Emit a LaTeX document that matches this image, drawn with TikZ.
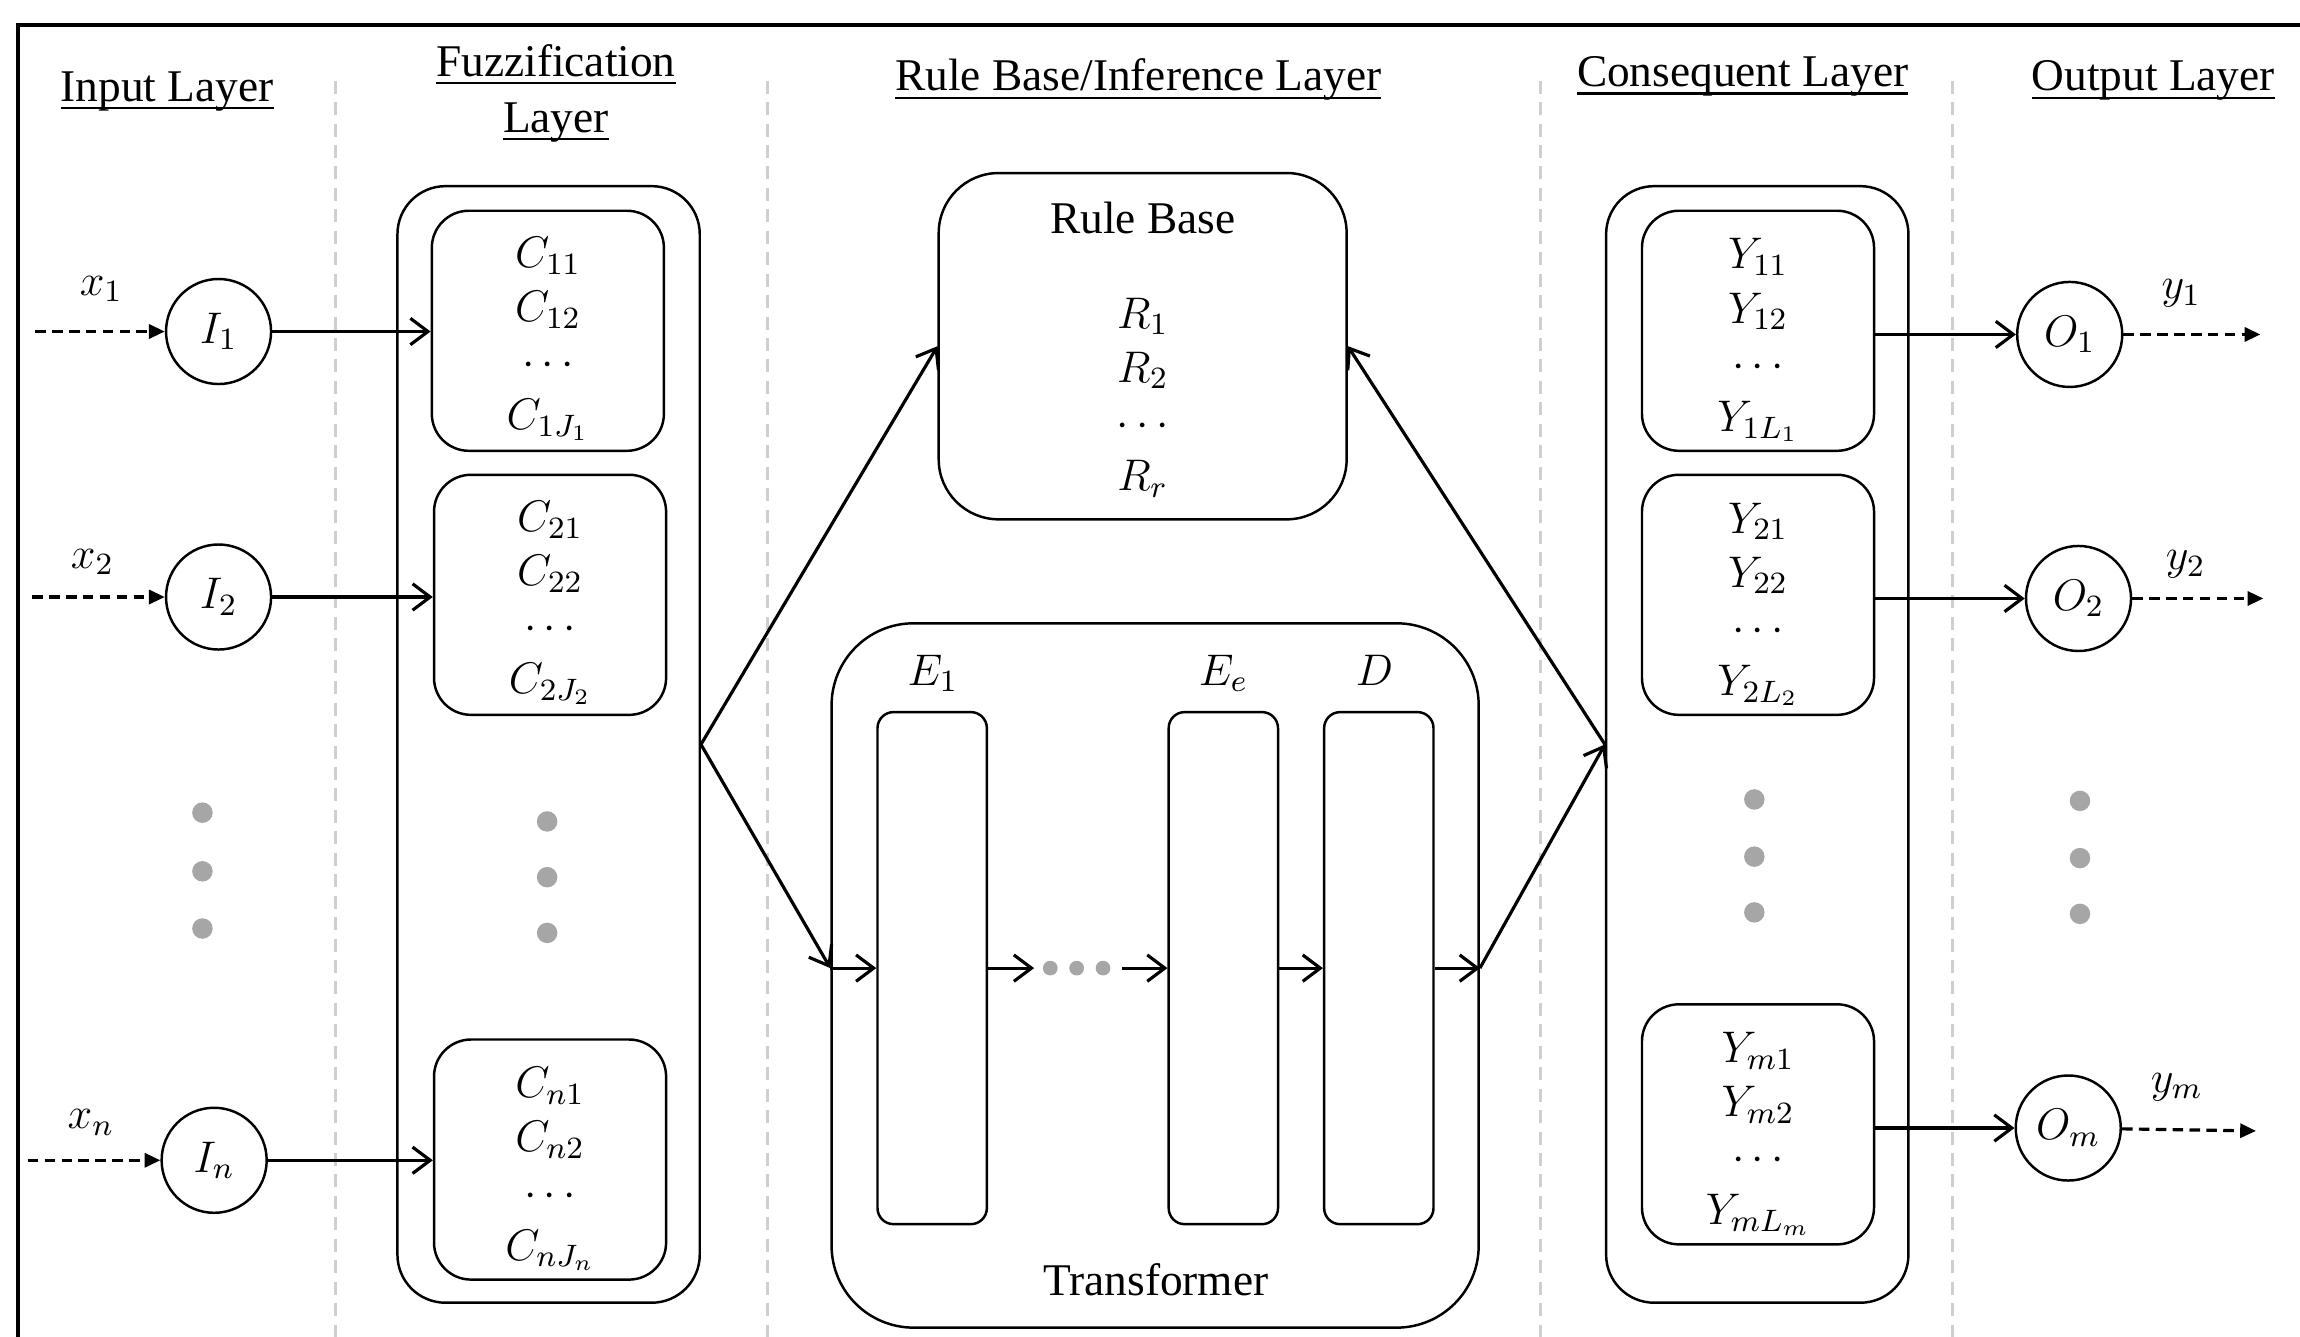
\documentclass[tikz,border=0pt]{standalone}
\usepackage{fix-cm}
\usepackage{fontspec}
\setmainfont{Liberation Serif}
\usetikzlibrary{arrows.meta}
\definecolor{dotgray}{HTML}{A6A6A6}
\definecolor{sepgray}{HTML}{CFCFCF}
\newsavebox{\hulbox}
\newcommand{\hul}[1]{\sbox{\hulbox}{#1}\rlap{\rule[-2.3pt]{\wd\hulbox}{0.7pt}}\usebox{\hulbox}}
\newcommand{\myhead}{\fontsize{12.9pt}{15.8pt}\selectfont}
\newcommand{\mymath}{\fontsize{12.6pt}{15.4pt}\selectfont}
\begin{document}
\begin{tikzpicture}[x=0.014668cm, y=-0.014668cm,
  outerbox/.style={draw, line width=0.7pt, rounded corners=0.48cm, minimum width=3.022cm, minimum height=11.162cm, inner sep=0pt},
  innerbox/.style={draw, line width=0.7pt, rounded corners=0.37cm, minimum width=2.32cm, minimum height=2.40cm, inner sep=0pt},
  barbox/.style={draw, line width=0.7pt, rounded corners=0.16cm, minimum width=1.093cm, minimum height=5.119cm, inner sep=0pt},
  neuron/.style={draw, circle, line width=0.7pt, minimum size=1.05cm, inner sep=0pt, font=\mymath},
  gdot/.style={circle, fill=dotgray, minimum size=0.205cm, inner sep=0pt},
  tdot/.style={circle, fill=dotgray, minimum size=0.147cm, inner sep=0pt},
  conn/.style={line width=0.9pt, -{Straight Barb[length=5pt,width=7.5pt]}},
  dashin/.style={line width=0.9pt, dash pattern=on 3pt off 1.8pt, -{Triangle[length=4.5pt,width=4pt]}},
  sepline/.style={sepgray, line width=0.9pt, dash pattern=on 3.7pt off 2.4pt},
  head/.style={font=\myhead, anchor=base, inner sep=0pt},
  mtext/.style={font=\mymath, align=center, inner sep=0pt},
  ttext/.style={font=\myhead, inner sep=0pt}
]
\useasboundingbox (0,0) rectangle (1568,911);
% frame
\draw[line width=1.1pt] (12,17) rectangle (1620,960);

% separators
\foreach \sx/\nm in {229/sa,523/sb,1050/sc,1331/sd}{
  \coordinate (\nm top) at (\sx,55);
  \coordinate (\nm bot) at (\sx,915);
  \draw[sepline] (\nm top) -- (\nm bot);
}

% headers
\node[head] (hIn) at (114,69) {\hul{Input Layer}};
\node[head] (hFa) at (379,52) {\hul{Fuzzification}};
\node[head] (hFb) at (379,90) {\hul{Layer}};
\node[head] (hRule) at (776,62) {\hul{Rule Base/Inference Layer}};
\node[head] (hCons) at (1188,59) {\hul{Consequent Layer}};
\node[head] (hOut) at (1468,62) {\hul{Output Layer}};

% input neurons
\node[neuron] (I1) at (149,226) {$I_1$};
\node[neuron] (I2) at (149,407) {$I_2$};
\node[neuron] (In) at (146,791) {$I_n$};
\coordinate (xs1) at (24,226);
\coordinate (xs2) at (22,407);
\coordinate (xsn) at (19,791);
\draw[dashin] (xs1) -- (I1);
\draw[dashin] (xs2) -- (I2);
\draw[dashin] (xsn) -- (In);
\node[font=\mymath, inner sep=0pt] (lx1) at (69,197) {$x_1$};
\node[font=\mymath, inner sep=0pt] (lx2) at (63,383) {$x_2$};
\node[font=\mymath, inner sep=0pt] (lxn) at (62,765) {$x_n$};
\node[gdot] (ida) at (138,554) {};
\node[gdot] (idb) at (138,594) {};
\node[gdot] (idc) at (138,633) {};

% fuzzification
\node[outerbox] (fuzz) at (374,507.5) {};
\node[innerbox] (c1) at (373.5,225.5) {};
\node[innerbox] (c2) at (375,405.5) {};
\node[innerbox] (cn) at (375,790.5) {};
\node[mtext] (c1t) at (373.5,231) {$C_{11}$\\$C_{12}$\\$\cdots$\\$C_{1J_1}$};
\node[mtext] (c2t) at (375,411) {$C_{21}$\\$C_{22}$\\$\cdots$\\$C_{2J_2}$};
\node[mtext] (cnt) at (375,797) {$C_{n1}$\\$C_{n2}$\\$\cdots$\\$C_{nJ_n}$};
\node[gdot] (fda) at (373,560) {};
\node[gdot] (fdb) at (373,598) {};
\node[gdot] (fdc) at (373,636) {};
\draw[conn] (I1) -- (I1 -| c1.west);
\draw[conn] (I2) -- (I2 -| c2.west);
\draw[conn] (In) -- (In -| cn.west);

% rule base
\node[draw, line width=0.7pt, rounded corners=0.6cm, minimum width=4.078cm, minimum height=3.462cm, inner sep=0pt] (rule) at (779,236) {};
\node[ttext, anchor=base] (rulet) at (779,159) {Rule Base};
\node[mtext] (rules) at (779,271) {$R_1$\\$R_2$\\$\cdots$\\$R_r$};

% transformer
\node[draw, line width=0.7pt, rounded corners=0.82cm, minimum width=6.469cm, minimum height=7.041cm, inner sep=0pt] (trans) at (787.5,665) {};
\node[barbox] (e1) at (635.5,660) {};
\node[barbox] (ee) at (834,660) {};
\node[barbox] (dd) at (940,660) {};
\node[font=\mymath, inner sep=0pt] (le1) at (636,459) {$E_1$};
\node[font=\mymath, inner sep=0pt] (lee) at (834,459) {$E_e$};
\node[font=\mymath, inner sep=0pt] (ldd) at (937,457) {$D$};
\node[ttext, anchor=base] (transt) at (788,883) {Transformer};
\node[tdot] (td1) at (716,660) {};
\node[tdot] (td2) at (734,660) {};
\node[tdot] (td3) at (752,660) {};
\coordinate (tin) at (trans.west |- e1.west);
\coordinate (tout) at (trans.east |- dd.east);
\draw[conn] (fuzz.east) -- (rule.west);
\draw[conn] (fuzz.east) -- (tin);
\draw[conn] (tin) -- (e1.west);
\draw[conn, shorten >=2.3pt] (e1.east) -- (td1.west);
\draw[conn, shorten <=3.2pt] (td3.east) -- (ee.west);
\draw[conn] (ee.east) -- (dd.west);
\draw[conn] (dd.east) -- (tout);

% consequent
\node[outerbox] (cons) at (1198,507.5) {};
\node[innerbox] (y1b) at (1198.5,225.5) {};
\node[innerbox] (y2b) at (1198.5,405.5) {};
\node[innerbox] (ymb) at (1198.5,766.5) {};
\node[mtext] (y1t) at (1198.5,232) {$Y_{11}$\\$Y_{12}$\\$\cdots$\\$Y_{1L_1}$};
\node[mtext] (y2t) at (1198.5,412) {$Y_{21}$\\$Y_{22}$\\$\cdots$\\$Y_{2L_2}$};
\node[mtext] (ymt) at (1198.5,773) {$Y_{m1}$\\$Y_{m2}$\\$\cdots$\\$Y_{mL_m}$};
\node[gdot] (cda) at (1196,545) {};
\node[gdot] (cdb) at (1196,584) {};
\node[gdot] (cdc) at (1196,622) {};
\draw[conn] (tout) -- (cons.west);
\draw[conn] (cons.west) -- (rule.east);

% outputs
\node[neuron] (O1) at (1411,228) {$O_1$};
\node[neuron] (O2) at (1417,408) {$O_2$};
\node[neuron] (Om) at (1410,769) {$O_m$};
\draw[conn] (O1 -| y1b.east) -- (O1);
\draw[conn] (O2 -| y2b.east) -- (O2);
\draw[conn] (Om -| ymb.east) -- (Om);
\coordinate (ye1) at (1541,228);
\coordinate (ye2) at (1543,408);
\coordinate (yem) at (1538,771);
\draw[dashin] (O1) -- (ye1);
\draw[dashin] (O2) -- (ye2);
\draw[dashin] (Om) -- (yem);
\node[font=\mymath, inner sep=0pt] (ly1) at (1487,200) {$y_1$};
\node[font=\mymath, inner sep=0pt] (ly2) at (1490,385) {$y_2$};
\node[font=\mymath, inner sep=0pt] (lym) at (1484,741) {$y_m$};
\node[gdot] (oda) at (1418,546) {};
\node[gdot] (odb) at (1418,585) {};
\node[gdot] (odc) at (1418,623) {};
\end{tikzpicture}
\end{document}
